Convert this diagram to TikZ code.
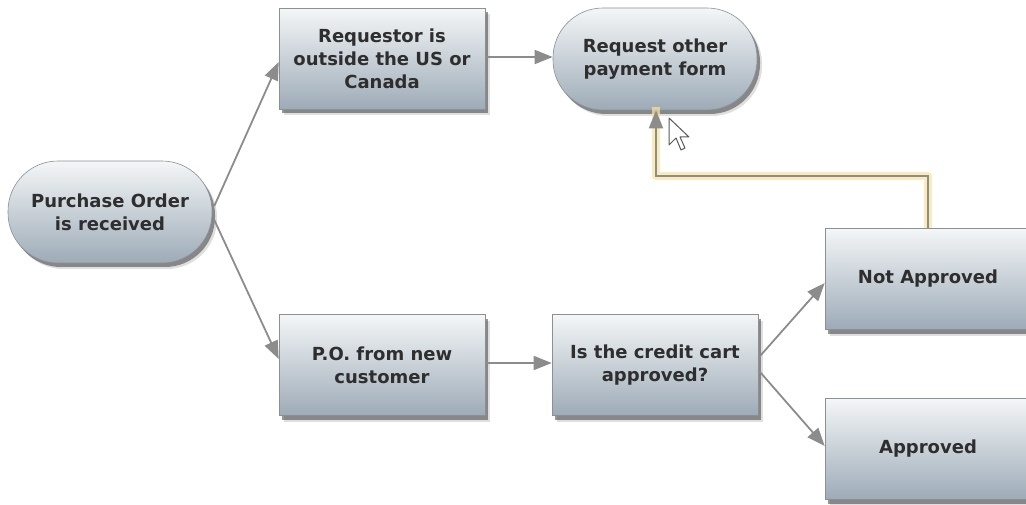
\documentclass[tikz,border=0pt]{standalone}
\usepackage{fontspec}
\setmainfont{DejaVu Sans}
\usetikzlibrary{arrows.meta,shadows}
\definecolor{boxtop}{HTML}{F4F6F7}
\definecolor{boxbot}{HTML}{9DABB7}
\definecolor{boxline}{HTML}{8A9096}
\definecolor{txt}{HTML}{2E2E2E}
\definecolor{conn}{HTML}{8C8C8C}
\definecolor{glow}{HTML}{F7E3A0}
\tikzset{
  shape base/.style={draw=boxline, line width=0.6pt, top color=boxtop, bottom color=boxbot,
    drop shadow={shadow xshift=5pt, shadow yshift=-6pt, fill=black!50, opacity=0.25},
    drop shadow={shadow xshift=3pt, shadow yshift=-4pt, fill=black!75, opacity=0.55},
    text=txt, font=\bfseries\fontsize{18}{23}\selectfont, align=center, inner sep=0pt},
  procbox/.style={shape base, rectangle, minimum width=206pt, minimum height=101pt},
  termbox/.style={shape base, rectangle, rounded corners=50pt, minimum width=204pt, minimum height=102pt},
  flow/.style={draw=conn, line width=1.8pt, -{Triangle[length=18pt,width=14pt]}},
  hilite/.style={draw=glow, line width=8pt, line join=round, opacity=0.7}
}
\begin{document}
\begin{tikzpicture}[x=1pt,y=-1pt]
\useasboundingbox (0,0) rectangle (1026,505);

% process steps
\node[termbox] (po)     at (110,212) {Purchase Order\\is received};
\node[procbox] (req)    at (382,59)  {Requestor is\\outside the US or\\Canada};
\node[termbox] (other)  at (655,59)  {Request other\\payment form};
\node[procbox] (new)    at (382,365) {P.O. from new\\customer};
\node[procbox] (credit) at (655,365) {Is the credit cart\\approved?};
\node[procbox] (notok)  at (928,279) {Not Approved};
\node[procbox] (ok)     at (928,449) {Approved};

% connectors
\draw[flow] (po.east) ++(2,-6) -- (req.west |- 0,62);
\draw[flow] (po.east) ++(2,8) -- (new.west |- 0,359);
\draw[flow] (req.east |- 0,57) -- (other.west |- 0,57);
\draw[flow] (new.east |- 0,363) -- (credit.west |- 0,363);
\draw[flow] (credit.east |- 0,358) -- (notok.west |- 0,283);
\draw[flow] (credit.east |- 0,370) -- (ok.west |- 0,446);

% highlighted return path
\coordinate (turnA) at (928,176);
\coordinate (turnB) at (656,176);
\draw[hilite] (notok.north -| turnA) -- (turnA) -- (turnB) -- ([yshift=3pt]other.south -| turnB);
\draw[flow] (notok.north -| turnA) -- (turnA) -- (turnB) -- (other.south -| turnB);

% mouse pointer
\draw[fill=white, draw=black!65, line width=1pt, line join=round]
  (669,118) -- (669,145) -- (676,138) -- (681,150) -- (685,148) -- (680,137) -- (689,137) -- cycle;
\end{tikzpicture}
\end{document}
